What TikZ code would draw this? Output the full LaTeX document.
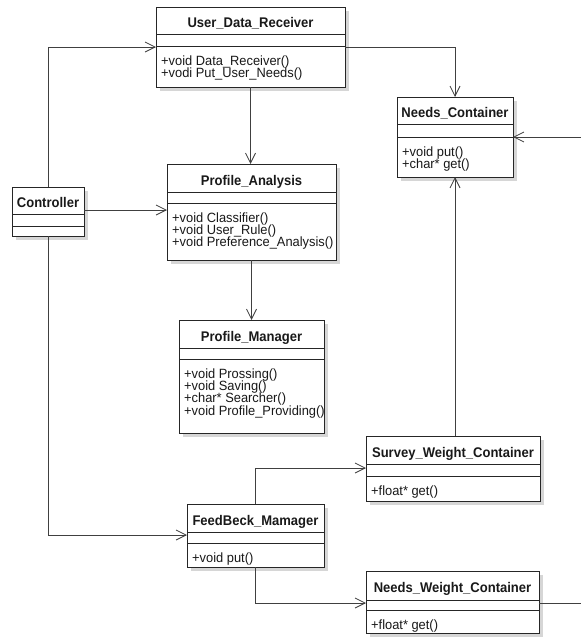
\documentclass[tikz,border=0pt]{standalone}
\usepackage{fontspec}
\setmainfont{Liberation Sans}[FakeStretch=0.93]
\newfontfamily\methfont{Liberation Sans}[FakeStretch=0.96]
\usetikzlibrary{arrows.meta,shadows}
\tikzset{
  classbox/.style={draw=black!85, line width=1pt, fill=white, inner sep=0pt, outer sep=0pt,
    drop shadow={shadow xshift=4pt, shadow yshift=-4pt, fill=black!16, opacity=1}},
  divider/.style={draw=black!85, line width=1pt},
  titletext/.style={inner sep=0pt, text=black!90, font=\fontsize{14}{14}\selectfont\bfseries},
  methtext/.style={inner sep=0pt, text=black!90, font=\methfont\fontsize{13.4}{12}\selectfont},
  conn/.style={draw=black!75, line width=0.8pt},
  arr/.style={conn, -{Straight Barb[length=10pt,width=10pt,line width=0.8pt]}}
}
% name, left, top, right, bottom, div1, div2, title, methods
\newcommand{\umlclass}[9]{%
  \pgfmathsetmacro\cw{#4-#2}%
  \pgfmathsetmacro\ch{#5-#3}%
  \pgfmathsetmacro\cx{(#2+#4)/2}%
  \pgfmathsetmacro\ty{(#3+#6)/2+7}%
  \node[classbox, minimum width=\cw pt, minimum height=\ch pt, anchor=north west] (#1) at (#2,#3) {};
  \draw[divider] (#2,#6) -- (#4,#6);
  \draw[divider] (#2,#7) -- (#4,#7);
  \node[titletext, anchor=base] (#1-t) at (\cx,\ty) {#8};
  \foreach \m [count=\i] in {#9} {
    \node[methtext, anchor=base west] (#1-m\i) at (#2+5, #7+19+12.4*\i-12.4) {\m};
  }
}
\begin{document}
\begin{tikzpicture}[x=1pt,y=-1pt]
\useasboundingbox (0,0) rectangle (581,640);
\fill[white] (0,0) rectangle (581,640);

\umlclass{udr}{156}{7}{345}{87}{34}{46}{User\_Data\_Receiver}{+void Data\_Receiver(),+vodi Put\_User\_Needs()}
\umlclass{ctrl}{12}{187}{84}{236}{214}{226}{Controller}{}
\umlclass{pa}{167}{164}{336}{260}{192}{203}{Profile\_Analysis}{+void Classifier(),+void User\_Rule(),+void Preference\_Analysis()}
\umlclass{pm}{179}{320}{324}{433}{348}{359}{Profile\_Manager}{+void Prossing(),+void Saving(),+char* Searcher(),+void Profile\_Providing()}
\umlclass{nc}{397}{97}{513}{177}{124}{137}{Needs\_Container}{+void put(),+char* get()}
\umlclass{swc}{366}{436}{540}{501}{464}{476}{Survey\_Weight\_Container}{+float* get()}
\umlclass{fb}{187}{504}{324}{567}{532}{543}{FeedBeck\_Mamager}{+void put()}
\umlclass{nwc}{366}{571}{539}{633}{600}{610}{Needs\_Weight\_Container}{+float* get()}

\coordinate (ncin) at (581,137);
\coordinate (nwcout) at (581,603);

\draw[arr] (ctrl.north) |- (udr.west |- 0,47);
\draw[arr] (ctrl.east |- 0,210) -- (pa.west |- 0,210);
\draw[arr] (ctrl.south) |- (fb.west |- 0,535);
\draw[arr] (udr.south) -- (pa.north -| udr.south);
\draw[arr] (udr.east |- 0,47) -| (nc.north);
\draw[arr] (ncin) -- (nc.east |- ncin);
\draw[arr] (pa.south) -- (pm.north -| pa.south);
\draw[arr] (swc.north -| nc.south) -- (nc.south);
\draw[arr] (fb.north) |- (swc.west |- 0,468);
\draw[arr] (fb.south) |- (nwc.west |- 0,603);
\draw[conn] (nwc.east |- nwcout) -- (nwcout);
\end{tikzpicture}
\end{document}
